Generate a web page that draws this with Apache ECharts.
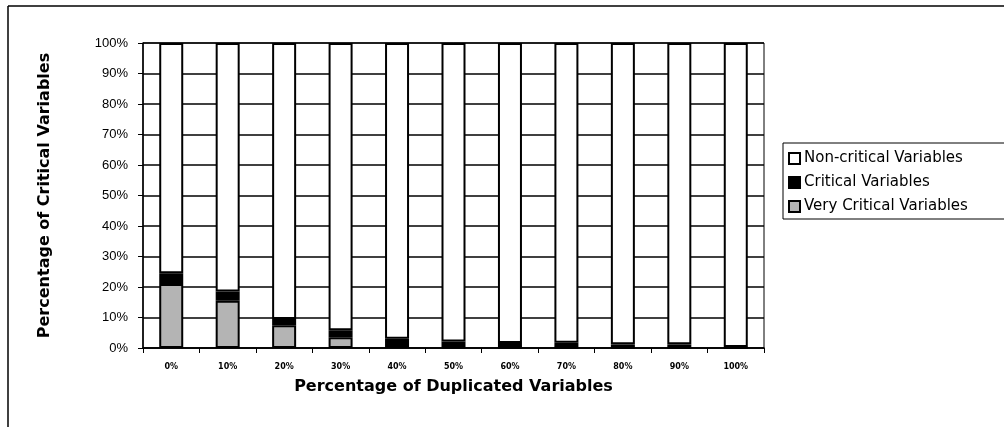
<!DOCTYPE html>
<html>
<head>
<meta charset="utf-8">
<script src="https://cdn.jsdelivr.net/npm/echarts@6/dist/echarts.min.js"></script>
<style>html,body{margin:0;padding:0;background:#fff;}#c{width:1004px;height:427px;}</style>
</head>
<body>
<div id="c"></div>
<script>
var categories = ['0%','10%','20%','30%','40%','50%','60%','70%','80%','90%','100%'];
var veryCritical = [21, 15.5, 7.5, 3.5, 1, 0.3, 0.2, 0.2, 0.2, 0.2, 0];
var critical = [3.5, 3, 2, 2.3, 2, 1.8, 1.4, 1.5, 1, 1, 0.3];
var nonCritical = [75.5, 81.5, 90.5, 94.2, 97, 97.9, 98.4, 98.3, 98.8, 98.8, 99.7];
var yTicks = [0, 10, 20, 30, 40, 50, 60, 70, 80, 90, 100];

var chart = echarts.init(document.getElementById('c'), null, {renderer: 'canvas'});
var barStyle = function(c){ return {color: c, borderColor: '#000', borderWidth: 2}; };
chart.setOption({
  animation: false,
  backgroundColor: '#fff',
  graphic: [
    {type: 'line', shape: {x1: 8, y1: 6, x2: 1004, y2: 6}, style: {stroke: '#000', lineWidth: 1.5}},
    {type: 'line', shape: {x1: 8, y1: 6, x2: 8, y2: 427}, style: {stroke: '#000', lineWidth: 1.5}}
  ],
  grid: {left: 143, right: 240, top: 43, bottom: 79, show: true, borderColor: '#000', borderWidth: 1, containLabel: false},
  legend: {
    orient: 'vertical', left: 783, top: 143,
    data: ['Non-critical Variables', 'Critical Variables', 'Very Critical Variables'],
    borderColor: '#000', borderWidth: 1, padding: [8, 40, 5, 5],
    itemWidth: 11, itemHeight: 11, itemGap: 9, icon: 'rect',
    textStyle: {fontFamily: 'DejaVu Sans', fontSize: 15, color: '#000', padding: [0, 0, 0, -1]}
  },
  xAxis: {
    type: 'category', data: categories,
    name: 'Percentage of Duplicated Variables', nameLocation: 'middle', nameGap: 31,
    nameTextStyle: {fontFamily: 'DejaVu Sans', fontWeight: 'bold', fontSize: 16, color: '#000'},
    axisLine: {lineStyle: {color: '#000', width: 1.5}},
    axisTick: {show: true, length: 5, lineStyle: {color: '#000'}},
    axisLabel: {fontFamily: 'DejaVu Sans', fontWeight: 'bold', fontSize: 8, color: '#000', margin: 15}
  },
  yAxis: {
    type: 'value', min: 0, max: 100, interval: 10,
    name: 'Percentage of Critical Variables', nameLocation: 'middle', nameGap: 90, nameRotate: 90,
    nameTextStyle: {fontFamily: 'DejaVu Sans', fontWeight: 'bold', fontSize: 16, color: '#000'},
    axisLine: {show: true, lineStyle: {color: '#000', width: 1.5}},
    axisTick: {show: true, length: 5, lineStyle: {color: '#000'}},
    axisLabel: {formatter: '{value}%', fontFamily: 'Liberation Sans, Arial', fontSize: 13, color: '#000', margin: 15},
    splitLine: {show: true, lineStyle: {color: '#000', width: 1.5}}
  },
  series: [
    {name: 'Very Critical Variables', type: 'bar', stack: 't', data: veryCritical, barWidth: 24, itemStyle: barStyle('#b4b4b4')},
    {name: 'Critical Variables', type: 'bar', stack: 't', data: critical, barWidth: 24, itemStyle: barStyle('#000')},
    {name: 'Non-critical Variables', type: 'bar', stack: 't', data: nonCritical, barWidth: 24, itemStyle: barStyle('#fff')}
  ]
});
</script>
</body>
</html>
